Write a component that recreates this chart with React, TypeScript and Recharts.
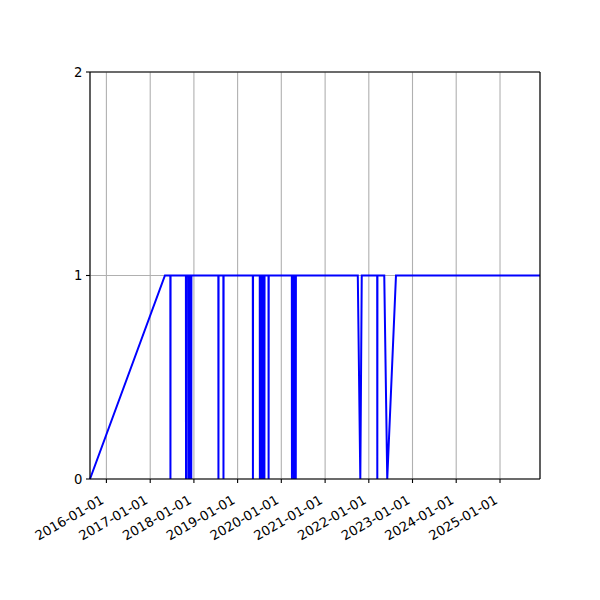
import { LineChart, Line, XAxis, YAxis, CartesianGrid, ReferenceLine } from 'recharts';

// points of the step-like series
const POINT_DATES = [
  '2015-08-17', '2017-05-04',
  '2017-06-18', '2017-06-19', '2017-06-20',
  '2017-10-26', '2017-10-27', '2017-10-28',
  '2017-11-14', '2017-11-15', '2017-11-16',
  '2017-11-27', '2017-11-28', '2017-11-29',
  '2017-12-09', '2017-12-10', '2017-12-11',
  '2018-07-24', '2018-07-25', '2018-07-26',
  '2018-09-04', '2018-09-05', '2018-09-06',
  '2019-05-08', '2019-05-09', '2019-05-10',
  '2019-07-05', '2019-07-06', '2019-07-07',
  '2019-07-15', '2019-07-16', '2019-07-17',
  '2019-07-25', '2019-07-26', '2019-07-27',
  '2019-08-04', '2019-08-05', '2019-08-06',
  '2019-08-12', '2019-08-13', '2019-08-14',
  '2019-09-16', '2019-09-17', '2019-09-18',
  '2020-03-29', '2020-03-30', '2020-03-31',
  '2020-04-15', '2020-04-16', '2020-04-17',
  '2020-04-30', '2020-05-01', '2020-05-02',
  '2021-10-01', '2021-10-22', '2021-11-03',
  '2022-03-12', '2022-03-13', '2022-03-14',
  '2022-05-10', '2022-06-04', '2022-08-16',
  '2025-12-01',
];

const POINT_VALUES = [
  0, 1,
  1, 0, 1,
  1, 0, 1,
  1, 0, 1,
  1, 0, 1,
  1, 0, 1,
  1, 0, 1,
  1, 0, 1,
  1, 0, 1,
  1, 0, 1,
  1, 0, 1,
  1, 0, 1,
  1, 0, 1,
  1, 0, 1,
  1, 0, 1,
  1, 0, 1,
  1, 0, 1,
  1, 0, 1,
  1, 0, 1,
  1, 0, 1,
  1, 0, 1,
  1,
];

const X_TICK_LABELS = [
  '2016-01-01', '2017-01-01', '2018-01-01', '2019-01-01', '2020-01-01',
  '2021-01-01', '2022-01-01', '2023-01-01', '2024-01-01', '2025-01-01',
];

const Y_TICKS = [0, 1, 2];

const toTime = (d: string) => new Date(d + 'T00:00:00Z').getTime();
const fmtDate = (t: number) => new Date(t).toISOString().slice(0, 10);

const data = POINT_DATES.map((d, i) => ({ t: toTime(d), value: POINT_VALUES[i] }));
const xTicks = X_TICK_LABELS.map(toTime);
const tStart = data[0].t;
const tEnd = data[data.length - 1].t;

const FONT = "'DejaVu Sans', sans-serif";
const FONT_SIZE = 13.2;

const DateTick = (props: any) => {
  const { x, y, payload } = props;
  const bx = x - 1.5;
  const by = y + 16;
  return (
    <text
      x={bx}
      y={by}
      textAnchor="end"
      fontFamily={FONT}
      fontSize={FONT_SIZE}
      fill="#000"
      transform={`rotate(-30 ${bx} ${by})`}
    >
      {fmtDate(payload.value)}
    </text>
  );
};

const ValueTick = (props: any) => {
  const { x, y, payload } = props;
  return (
    <text x={x} y={y} dy="0.36em" textAnchor="end" fontFamily={FONT} fontSize={FONT_SIZE} fill="#000">
      {payload.value}
    </text>
  );
};

export default function App() {
  return (
    <div style={{ position: 'absolute', left: 0, top: 0, width: 600, height: 600, background: '#fff' }}>
      <LineChart width={600} height={600} data={data} margin={{ top: 72, right: 60, bottom: 0, left: 0 }}>
        <CartesianGrid stroke="#b0b0b0" strokeWidth={1.1} />
        <XAxis
          dataKey="t"
          type="number"
          domain={[tStart, tEnd]}
          ticks={xTicks}
          interval={0}
          height={121}
          tickSize={4}
          tickMargin={3.5}
          tick={<DateTick />}
          axisLine={{ stroke: '#000', strokeWidth: 1.1 }}
          tickLine={{ stroke: '#000', strokeWidth: 1.1 }}
        />
        <YAxis
          type="number"
          domain={[0, 2]}
          ticks={Y_TICKS}
          interval={0}
          width={90}
          tickSize={4}
          tickMargin={3.5}
          tick={<ValueTick />}
          axisLine={{ stroke: '#000', strokeWidth: 1.1 }}
          tickLine={{ stroke: '#000', strokeWidth: 1.1 }}
        />
        <Line
          type="linear"
          dataKey="value"
          stroke="#0000ff"
          strokeWidth={2}
          dot={false}
          activeDot={false}
          isAnimationActive={false}
        />
        <ReferenceLine y={2} stroke="#000" strokeWidth={1.1} />
        <ReferenceLine x={tEnd} stroke="#000" strokeWidth={1.1} />
      </LineChart>
    </div>
  );
}
